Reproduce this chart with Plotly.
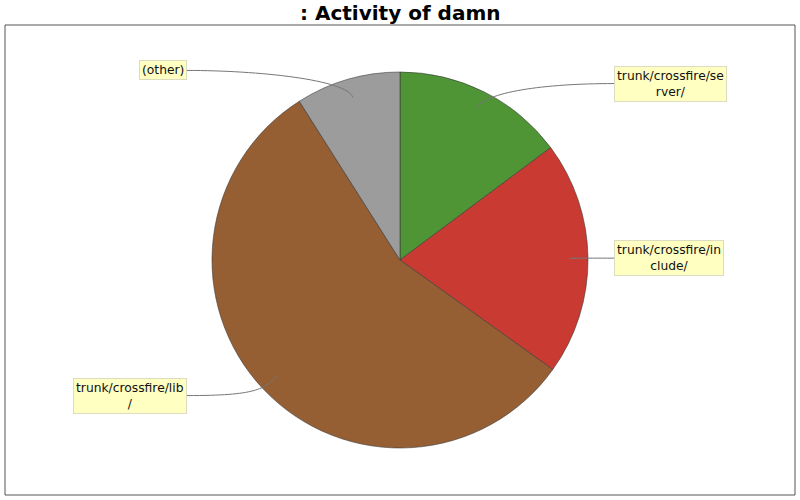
import numpy as np
import plotly.graph_objects as go

labels = ["trunk/crossfire/se<br>rver/", "trunk/crossfire/in<br>clude/",
          "trunk/crossfire/lib<br>/", "(other)"]
shares = [14.8, 20.1, 56.1, 9.0]
colors = ["#4F9535", "#C93A32", "#955E33", "#9C9C9C"]

W, H = 800, 500
cx, cy, R = 400, 260, 188


def px(x, y):
    return x / W, 1 - y / H


fig = go.Figure(go.Pie(
    values=shares,
    labels=labels,
    marker=dict(colors=colors, line=dict(color="#3a3a3a", width=0.6)),
    sort=False,
    direction="clockwise",
    rotation=0,
    textinfo="none",
    hoverinfo="label+percent",
    showlegend=False,
    domain=dict(x=[(cx - R) / W, (cx + R) / W], y=[1 - (cy + R) / H, 1 - (cy - R) / H]),
))

# slice mid angles (clockwise from 12 o'clock) drive the label layout
vals = np.array(shares, dtype=float)
cum = np.cumsum(vals) / vals.sum()
mids = (cum - vals / vals.sum() / 2) * 2 * np.pi

shapes = [dict(type="rect", xref="paper", yref="paper",
               x0=5 / W, x1=795 / W, y0=1 - 495 / H, y1=1 - 25 / H,
               line=dict(color="#555555", width=1), layer="below")]
annotations = []
for lab, a in zip(labels, mids):
    sx, sy = np.sin(a), -np.cos(a)
    ax, ay = cx + 0.9 * R * sx, cy + 0.9 * R * sy
    ly = cy + 1.05 * R * sy
    right = sx >= 0
    lx = 614 if right else 187
    c1x, c1y = cx + 1.0 * R * sx, cy + 1.0 * R * sy
    c2x = lx - 70 if right else lx + 70
    path = "M {},{} C {},{} {},{} {},{}".format(
        *px(ax, ay), *px(c1x, c1y), *px(c2x, ly), *px(lx, ly))
    shapes.append(dict(type="path", xref="paper", yref="paper", path=path,
                       line=dict(color="#777777", width=1)))
    annotations.append(dict(
        x=lx / W, y=1 - ly / H, xref="paper", yref="paper",
        xanchor="left" if right else "right", yanchor="middle",
        text=lab, showarrow=False, align="center",
        font=dict(family="DejaVu Sans", size=12.3, color="#111111"),
        bgcolor="#FFFFC2", bordercolor="#DCDCC0", borderwidth=1, borderpad=2,
    ))

annotations.append(dict(
    x=0.5, y=1 - 13 / H, xref="paper", yref="paper", xanchor="center", yanchor="middle",
    text="<b>: Activity of damn</b>", showarrow=False,
    font=dict(family="DejaVu Sans", size=20, color="#000000"),
))

fig.update_layout(
    width=W, height=H,
    margin=dict(l=0, r=0, t=0, b=0),
    paper_bgcolor="white",
    shapes=shapes,
    annotations=annotations,
)
fig.write_html("out.html", config={"displayModeBar": False},
               post_script="document.body.style.margin='0';")
